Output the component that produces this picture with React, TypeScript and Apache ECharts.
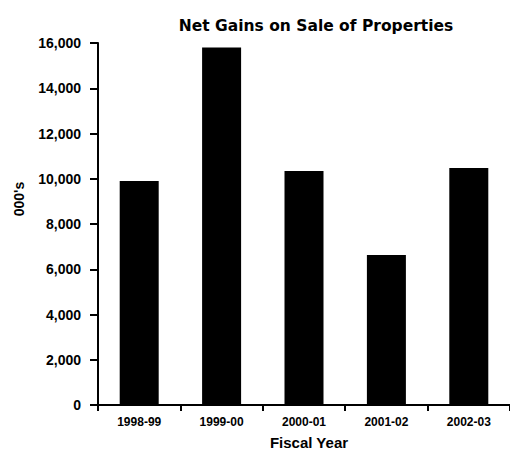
import React, { useEffect, useRef } from "react";
import * as echarts from "echarts";

const categories = ["1998-99", "1999-00", "2000-01", "2001-02", "2002-03"];
const gains = [9900, 15800, 10340, 6630, 10470];
const yTicks = [0, 2000, 4000, 6000, 8000, 10000, 12000, 14000, 16000];
const titleText = "Net Gains on Sale of Properties";
const xAxisTitle = "Fiscal Year";
const yAxisTitle = "000's";

export default function App() {
  const ref = useRef<HTMLDivElement>(null);
  useEffect(() => {
    const chart = echarts.init(ref.current!, null, { renderer: "svg" });
    chart.setOption({
      animation: false,
      title: {
        text: titleText,
        left: 311,
        textAlign: "center",
        top: 13,
        textStyle: { fontFamily: "DejaVu Sans", fontWeight: "bold", fontSize: 15.5, color: "#000" },
      },
      grid: { left: 98, right: 0, top: 43, bottom: 46, outerBoundsMode: "none", containLabel: false },
      graphic: [
        {
          type: "text",
          x: 309,
          y: 442,
          style: {
            text: xAxisTitle,
            fontFamily: "Liberation Sans",
            fontWeight: "bold",
            fontSize: 15,
            fill: "#000",
            align: "center",
            verticalAlign: "middle",
          },
        },
        {
          type: "text",
          x: 19,
          y: 199,
          rotation: Math.PI / 2,
          style: {
            text: yAxisTitle,
            fontFamily: "Liberation Sans",
            fontWeight: "bold",
            fontSize: 14,
            fill: "#000",
            align: "center",
            verticalAlign: "middle",
          },
        },
      ],
      xAxis: {
        type: "category",
        data: categories,
        axisLine: { lineStyle: { color: "#000", width: 2 } },
        axisTick: { show: true, length: 6, lineStyle: { color: "#000", width: 2 } },
        axisLabel: { fontFamily: "Liberation Sans", fontWeight: "bold", fontSize: 12, color: "#000", margin: 11 },
      },
      yAxis: {
        type: "value",
        min: yTicks[0],
        max: yTicks[yTicks.length - 1],
        interval: 2000,
        axisLine: { show: true, lineStyle: { color: "#000", width: 2 } },
        axisTick: { show: true, length: 8, lineStyle: { color: "#000", width: 2 } },
        splitLine: { show: false },
        axisLabel: {
          fontFamily: "Liberation Sans",
          fontWeight: "bold",
          fontSize: 14,
          color: "#000",
          margin: 17,
          formatter: (v: number) => v.toLocaleString("en-US"),
        },
      },
      series: [
        {
          type: "bar",
          data: gains,
          barWidth: 39,
          itemStyle: { color: "#000" },
        },
      ],
    });
    return () => chart.dispose();
  }, []);
  return <div ref={ref} style={{ width: 510, height: 451, position: "absolute", left: 0, top: 0 }} />;
}
